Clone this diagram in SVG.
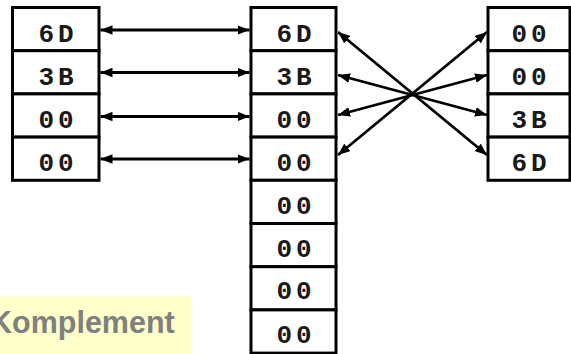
<svg xmlns="http://www.w3.org/2000/svg" width="571" height="354" viewBox="0 0 571 354">
<defs>
<marker id="ah" viewBox="0 0 10 8" refX="10" refY="4" markerWidth="12" markerHeight="10" markerUnits="userSpaceOnUse" orient="auto-start-reverse">
<path d="M0,0 L10,4 L0,8 Z" fill="#000"/>
</marker>
<style>
.cell{fill:#fff;stroke:#000;stroke-width:3}
.t{font-family:"Liberation Mono","Courier New",monospace;font-weight:bold;font-size:26px;fill:#1a1a1a;text-anchor:middle;letter-spacing:4px}
.c{stroke:#000;stroke-width:2.8;fill:none;marker-start:url(#ah);marker-end:url(#ah)}
</style>
</defs>
<rect width="571" height="354" fill="#fff"/>
<g id="label">
<rect x="-2" y="296" width="193" height="60" fill="#ffffcc"/>
<text x="-10" y="333" font-family="Liberation Sans, Arial, sans-serif" font-weight="bold" font-size="30.5" fill="#808080">Komplement</text>
</g>
<g id="L0"><rect class="cell" x="12.5" y="7.5" width="86.5" height="43.2"/><text class="t" x="58" y="42">6D</text></g>
<g id="L1"><rect class="cell" x="12.5" y="50.7" width="86.5" height="43.2"/><text class="t" x="58" y="85.2">3B</text></g>
<g id="L2"><rect class="cell" x="12.5" y="93.9" width="86.5" height="43.2"/><text class="t" x="58" y="128">00</text></g>
<g id="L3"><rect class="cell" x="12.5" y="137.1" width="86.5" height="43.2"/><text class="t" x="58" y="171.2">00</text></g>
<g id="M0"><rect class="cell" x="251" y="7.5" width="85" height="43.2"/><text class="t" x="296" y="42">6D</text></g>
<g id="M1"><rect class="cell" x="251" y="50.7" width="85" height="43.2"/><text class="t" x="296" y="85.2">3B</text></g>
<g id="M2"><rect class="cell" x="251" y="93.9" width="85" height="43.2"/><text class="t" x="296" y="128">00</text></g>
<g id="M3"><rect class="cell" x="251" y="137.1" width="85" height="43.2"/><text class="t" x="296" y="171.2">00</text></g>
<g id="M4"><rect class="cell" x="251" y="180.3" width="85" height="43.2"/><text class="t" x="296" y="213.5">00</text></g>
<g id="M5"><rect class="cell" x="251" y="223.5" width="85" height="43.2"/><text class="t" x="296" y="256.7">00</text></g>
<g id="M6"><rect class="cell" x="251" y="266.7" width="85" height="43.2"/><text class="t" x="296" y="299">00</text></g>
<g id="M7"><rect class="cell" x="251" y="309.9" width="85" height="43.2"/><text class="t" x="296" y="342.7">00</text></g>
<g id="R0"><rect class="cell" x="488" y="7.5" width="82" height="43.2"/><text class="t" x="531" y="42">00</text></g>
<g id="R1"><rect class="cell" x="488" y="50.7" width="82" height="43.2"/><text class="t" x="531" y="85.2">00</text></g>
<g id="R2"><rect class="cell" x="488" y="93.9" width="82" height="43.2"/><text class="t" x="531" y="128">3B</text></g>
<g id="R3"><rect class="cell" x="488" y="137.1" width="82" height="43.2"/><text class="t" x="531" y="171.2">6D</text></g>
<g id="connectors">
<line class="c" x1="100.5" y1="30" x2="249.5" y2="30"/>
<line class="c" x1="100.5" y1="72.5" x2="249.5" y2="72.5"/>
<line class="c" x1="100.5" y1="116.5" x2="249.5" y2="116.5"/>
<line class="c" x1="100.5" y1="159" x2="249.5" y2="159"/>
<line class="c" x1="338" y1="32" x2="487" y2="155"/>
<line class="c" x1="338" y1="75" x2="487" y2="115"/>
<line class="c" x1="338" y1="115" x2="487" y2="75"/>
<line class="c" x1="338" y1="155" x2="487" y2="32"/>
</g>
</svg>
